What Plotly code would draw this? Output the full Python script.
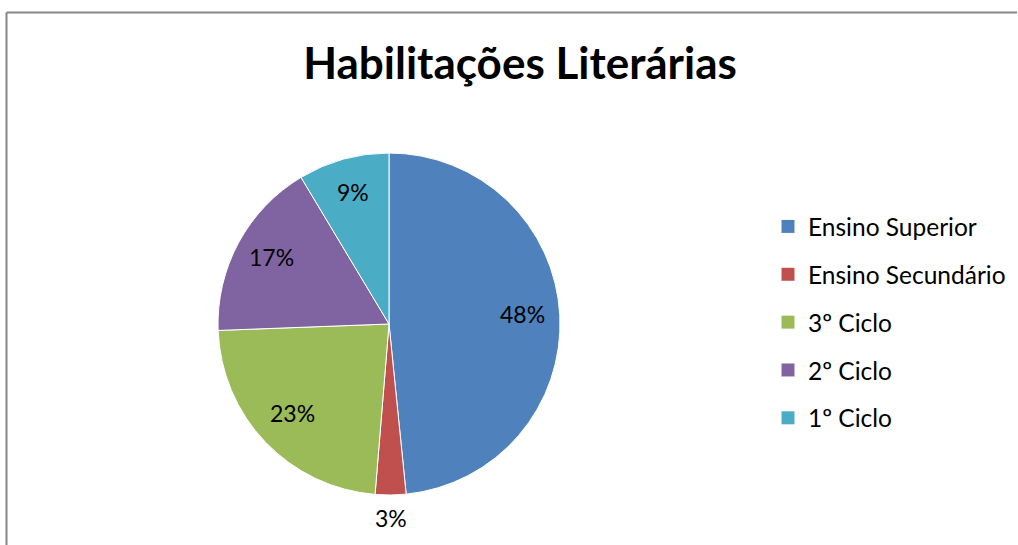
import math
import plotly.graph_objects as go

categories = ["Ensino Superior", "Ensino Secundário", "3º Ciclo", "2º Ciclo", "1º Ciclo"]
values = [48.4, 2.9, 23.1, 17.0, 8.6]
colors = ["#4F81BD", "#C0504D", "#9BBB59", "#8064A2", "#4BACC6"]
label_outside = [False, True, False, False, False]
title_text = "Habilitações Literárias"

W, H = 1018, 545
FONT = "Lato"

# pie placement (pixels)
PX0, PX1, PY0, PY1 = 218, 560, 153, 495
dom_x = [PX0 / W, PX1 / W]
dom_y = [(H - PY1) / H, (H - PY0) / H]

fig = go.Figure()
fig.add_trace(go.Pie(
    labels=categories,
    values=values,
    sort=False,
    direction="clockwise",
    rotation=0,
    marker=dict(colors=colors, line=dict(color="white", width=1)),
    textinfo="none",
    showlegend=False,
    hoverinfo="label+percent",
    domain=dict(x=dom_x, y=dom_y),
))

# data labels placed along each slice's bisector (Excel style)
total = sum(values)
cx = (dom_x[0] + dom_x[1]) / 2 * W
cy = (1 - (dom_y[0] + dom_y[1]) / 2) * H
R = (PX1 - PX0) / 2
cum = 0.0
annotations = []
for v, out in zip(values, label_outside):
    mid = (cum + v / 2) / total * 2 * math.pi
    cum += v
    rr = R * (1.15 if out else 0.78)
    px = cx + rr * math.sin(mid)
    py = cy - rr * math.cos(mid) - 3
    annotations.append(dict(
        x=px / W, y=1 - py / H, xref="paper", yref="paper",
        text=f"{v / total:.0%}", showarrow=False,
        xanchor="center", yanchor="middle",
        font=dict(family=FONT, size=23, color="black"),
    ))

# legend entries (one group each so spacing can be controlled)
for name, c in zip(categories, colors):
    fig.add_trace(go.Scatter(
        x=[None], y=[None], mode="markers", name=name, legendgroup=name,
        marker=dict(symbol="square", size=13, color=c),
        hoverinfo="skip",
    ))

fig.update_layout(
    width=W, height=H,
    margin=dict(l=0, r=0, t=0, b=0),
    paper_bgcolor="white", plot_bgcolor="white",
    title=dict(text=title_text, x=520 / W, xanchor="center", xref="container",
               y=1 - 64 / H, yanchor="middle", yref="container",
               font=dict(family=FONT, size=44, color="black", weight="bold")),
    xaxis=dict(visible=False), yaxis=dict(visible=False),
    legend=dict(x=768 / W, xanchor="left", y=1 - 204 / H, yanchor="top",
                font=dict(family=FONT, size=24.5, color="black"),
                tracegroupgap=13, traceorder="grouped",
                bgcolor="rgba(0,0,0,0)"),
    annotations=annotations,
    shapes=[
        dict(type="line", xref="paper", yref="paper", x0=6.5 / W, x1=1017 / W, y0=1 - 12.5 / H, y1=1 - 12.5 / H,
             line=dict(color="#878787", width=2), layer="below"),
        dict(type="line", xref="paper", yref="paper", x0=6.5 / W, x1=6.5 / W, y0=-0.02, y1=1 - 12.5 / H,
             line=dict(color="#878787", width=2), layer="below"),
    ],
)

fig.write_html(
    "out.html",
    config={"displayModeBar": False},
)
